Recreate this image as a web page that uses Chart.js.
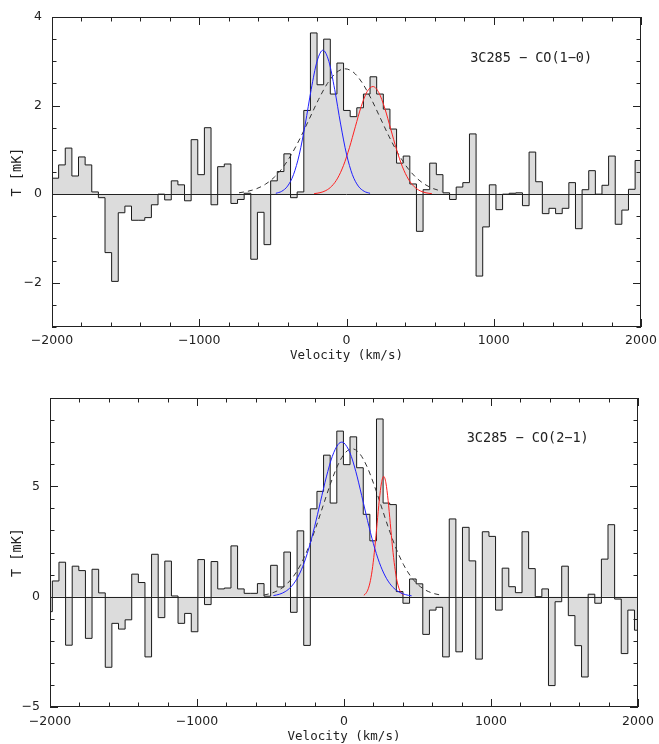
<!DOCTYPE html>
<html>
<head>
<meta charset="utf-8">
<script src="https://cdn.jsdelivr.net/npm/chart.js@4.4.1/dist/chart.umd.min.js"></script>
<style>
  body { margin: 0; background: #fff; }
  canvas { display: block; }
</style>
</head>
<body>
<canvas id="chart-1" width="659" height="372"></canvas>
<canvas id="chart-2" width="659" height="372"></canvas>
<script>
// channel width of both spectra (km/s)
const chanWidth = 45;
const velLabels = [-2000, -1000, 0, 1000, 2000];

// CO(1-0) spectrum, channels start at -2000 km/s
const co10Start = -2000;
const co10T = [0.36, 0.66, 1.04, 0.41, 0.84, 0.66, 0.05, -0.08, -1.32, -1.97,
  -0.42, -0.27, -0.59, -0.59, -0.53, -0.24, 0.0, -0.13, 0.30, 0.21,
  -0.15, 1.23, 0.44, 1.50, -0.24, 0.62, 0.68, -0.21, -0.12, 0.02,
  -1.47, -0.41, -1.14, 0.30, 0.51, 0.91, -0.08, 0.05, 1.89, 3.64,
  2.47, 3.50, 2.26, 2.96, 1.89, 1.75, 1.95, 2.26, 2.65, 2.26,
  1.92, 1.47, 0.70, 0.86, 0.23, -0.84, 0.10, 0.70, 0.44, 0.03,
  -0.12, 0.16, 0.26, 1.36, -1.85, -0.74, 0.21, -0.35, 0.0, 0.02,
  0.03, -0.26, 0.95, 0.28, -0.44, -0.32, -0.44, -0.32, 0.26, -0.78,
  0.10, 0.53, 0.0, 0.20, 0.86, -0.68, -0.36, 0.11, 0.76];
const co10YLabels = [-2, 0, 2, 4];

// CO(1-0) fits: blue / red components and single broad gaussian (dashed)
const co10BlueV = [-480, -440, -400, -360, -320, -280, -240, -200, -160, -120, -80, -40, 0, 40, 80, 120, 160];
const co10BlueT = [0.019, 0.064, 0.182, 0.440, 0.904, 1.582, 2.36, 3.00, 3.25, 3.00, 2.36, 1.582, 0.904, 0.440, 0.182, 0.064, 0.019];
const co10RedV = [-220, -180, -140, -100, -60, -20, 20, 60, 100, 140, 180, 220, 260, 300, 340, 380, 420, 460, 500, 540, 580];
const co10RedT = [0.012, 0.033, 0.081, 0.181, 0.362, 0.651, 1.050, 1.522, 1.981, 2.315, 2.43, 2.29, 1.939, 1.474, 1.006, 0.617, 0.340, 0.168, 0.075, 0.030, 0.011];
const co10FitV = [-730, -670, -610, -550, -490, -430, -370, -310, -250, -190, -130, -70, -10, 50, 110, 170, 230, 290, 350, 410, 470, 530, 590, 650];
const co10FitT = [0.031, 0.065, 0.124, 0.225, 0.383, 0.612, 0.919, 1.296, 1.716, 2.136, 2.497, 2.743, 2.83, 2.743, 2.497, 2.136, 1.716, 1.296, 0.919, 0.612, 0.383, 0.225, 0.124, 0.065];

// CO(2-1) spectrum, first channel is cut by the left edge
const co21Start = -2029;
const co21T = [-0.68, 0.71, 1.56, -2.20, 1.38, 1.18, -1.89, 1.24, 0.17, -3.20,
  -1.21, -1.47, -1.05, 1.02, 0.64, -2.73, 1.92, -0.95, 1.61, 0.03,
  -1.21, -0.76, -1.59, 1.68, -0.36, 1.59, 0.35, 0.39, 2.30, 0.35,
  0.15, 0.15, 0.59, 0.02, 1.42, 0.44, 2.02, -0.71, 2.98, -2.21,
  3.98, 4.77, 6.41, 4.24, 7.50, 5.98, 7.24, 5.84, 3.73, 2.53,
  8.05, 4.24, 4.17, 0.23, -0.30, 0.80, 0.58, -1.71, -0.61, -0.48,
  -2.73, 3.52, -2.50, 3.14, 1.62, -2.83, 2.94, 2.73, -0.61, 1.29,
  0.45, 0.18, 2.94, 1.27, 0.0, 0.35, -4.03, -0.23, 1.38, -0.86,
  -2.22, -3.64, 0.11, -0.30, 1.70, 3.26, -0.11, -2.58, -0.61, -1.52];
const co21YLabels = [-5, 0, 5];

const co21BlueV = [-480, -440, -400, -360, -320, -280, -240, -200, -160, -120, -80, -40, -15, 0, 40, 80, 120, 160, 200, 240, 280, 320, 360, 400, 440, 460];
const co21BlueT = [0.047, 0.107, 0.227, 0.446, 0.813, 1.378, 2.169, 3.170, 4.305, 5.424, 6.348, 6.899, 7.0, 6.964, 6.527, 5.681, 4.591, 3.446, 2.402, 1.554, 0.934, 0.522, 0.270, 0.130, 0.058, 0.038];
const co21RedV = [135, 150, 165, 180, 195, 210, 225, 240, 255, 270, 285, 300, 315, 330, 345, 360, 375, 390, 405];
const co21RedT = [0.061, 0.156, 0.358, 0.738, 1.359, 2.241, 3.306, 4.364, 5.156, 5.45, 5.156, 4.364, 3.306, 2.241, 1.359, 0.738, 0.358, 0.156, 0.061];
const co21FitV = [-545, -495, -445, -395, -345, -295, -245, -195, -145, -95, -45, 5, 55, 105, 155, 205, 255, 305, 355, 405, 455, 505, 555, 605, 655];
const co21FitT = [0.074, 0.153, 0.294, 0.533, 0.907, 1.449, 2.175, 3.067, 4.064, 5.057, 5.913, 6.494, 6.70, 6.494, 5.913, 5.057, 4.064, 3.067, 2.175, 1.449, 0.907, 0.533, 0.294, 0.153, 0.074];

const minus = v => (v < 0 ? '\u2212' + Math.abs(v) : String(v));
const pts = (xs, ys) => xs.map((x, i) => ({ x: x, y: ys[i] }));
// left channel edges + closing edge, drawn with step-before
function steps(start, vals) {
  const p = vals.map((y, i) => ({ x: start + i * chanWidth, y: y }));
  p.push({ x: start + vals.length * chanWidth, y: vals[vals.length - 1] });
  return p;
}

const ink = '#222';
const tickFont = { family: 'DejaVu Sans', size: 12.5 };
const textFont = { family: 'DejaVu Sans Mono', size: 12.5 };
const yTitleFont = { family: 'DejaVu Sans Mono', size: 13.5 };

// box frame with inward ticks, zero line and the panel label
const boxTicks = {
  id: 'boxTicks',
  afterDatasetsDraw(chart, args, opts) {
    const { ctx, chartArea: a, scales: { x, y } } = chart;
    ctx.save();
    ctx.strokeStyle = ink;
    ctx.lineWidth = 1;
    ctx.beginPath();
    const y0 = Math.round(y.getPixelForValue(0)) + 0.5;
    ctx.moveTo(a.left, y0);
    ctx.lineTo(a.right, y0);
    x.ticks.forEach(t => {
      const p = Math.round(x.getPixelForValue(t.value)) + 0.5;
      const len = velLabels.includes(t.value) ? 8 : 4.5;
      ctx.moveTo(p, a.bottom); ctx.lineTo(p, a.bottom - len);
      ctx.moveTo(p, a.top); ctx.lineTo(p, a.top + len);
    });
    y.ticks.forEach(t => {
      const p = Math.round(y.getPixelForValue(t.value)) + 0.5;
      const len = opts.yMajor.includes(t.value) ? 8 : 4.5;
      ctx.moveTo(a.left, p); ctx.lineTo(a.left + len, p);
      ctx.moveTo(a.right, p); ctx.lineTo(a.right - len, p);
    });
    ctx.stroke();
    ctx.strokeRect(Math.round(a.left) + 0.5, Math.round(a.top) + 0.5,
      Math.round(a.right - a.left) - 1, Math.round(a.bottom - a.top) - 1);
    ctx.fillStyle = ink;
    ctx.font = '13.5px "DejaVu Sans Mono"';
    ctx.textBaseline = 'middle';
    ctx.fillText(opts.text, x.getPixelForValue(opts.at[0]), y.getPixelForValue(opts.at[1]));
    ctx.restore();
  }
};

const curve = { pointRadius: 0, borderWidth: 1, fill: false, cubicInterpolationMode: 'monotone' };

function panel(id, o) {
  return new Chart(document.getElementById(id), {
    type: 'line',
    data: {
      datasets: [
        Object.assign({ data: pts(o.blueV, o.blueT), borderColor: '#2020ff' }, curve),
        Object.assign({ data: pts(o.redV, o.redT), borderColor: '#ff2020' }, curve),
        Object.assign({ data: pts(o.fitV, o.fitT), borderColor: '#333', borderDash: [5, 4] }, curve),
        {
          data: steps(o.start, o.T),
          stepped: 'before',
          fill: 'origin',
          backgroundColor: '#dcdcdc',
          borderColor: '#1a1a1a',
          borderWidth: 1,
          pointRadius: 0
        }
      ]
    },
    options: {
      responsive: false,
      animation: false,
      devicePixelRatio: 1,
      layout: { padding: o.pad },
      plugins: {
        legend: { display: false },
        tooltip: { enabled: false },
        boxTicks: { yMajor: o.yLabels, text: o.label, at: o.labelAt }
      },
      scales: {
        x: {
          type: 'linear',
          min: -2000,
          max: 2000,
          // fixed axis height, edge labels may overhang the frame
          afterFit: s => { s.height = o.xHeight; s.paddingLeft = 0; s.paddingRight = 0; },
          border: { display: false },
          grid: { display: false, drawTicks: false },
          ticks: {
            stepSize: 200, autoSkip: false, maxRotation: 0,
            padding: o.xTickPad, color: ink, font: tickFont,
            callback: v => (velLabels.includes(v) ? minus(v) : '')
          },
          title: {
            display: true, text: 'Velocity (km/s)', color: ink, font: textFont,
            padding: { top: 0, bottom: o.xTitlePad }
          }
        },
        y: {
          min: o.yMin,
          max: o.yMax,
          afterFit: s => { s.width = o.yWidth; s.paddingTop = 0; s.paddingBottom = 0; },
          border: { display: false },
          grid: { display: false, drawTicks: false },
          ticks: {
            stepSize: o.yStep, autoSkip: false, padding: 10, color: ink, font: tickFont,
            callback: v => (o.yLabels.includes(v) ? minus(v) : '')
          },
          title: {
            display: true, text: 'T [mK]', color: ink, font: yTitleFont,
            padding: { top: 9.5, bottom: 0 }
          }
        }
      }
    },
    plugins: [boxTicks]
  });
}

panel('chart-1', {
  start: co10Start, T: co10T,
  blueV: co10BlueV, blueT: co10BlueT, redV: co10RedV, redT: co10RedT, fitV: co10FitV, fitT: co10FitT,
  yMin: -3, yMax: 4, yStep: 0.5, yLabels: co10YLabels,
  label: '3C285 \u2212 CO(1\u22120)', labelAt: [840, 3.06],
  pad: { top: 17, right: 18, left: 0, bottom: 0 },
  xHeight: 45, xTickPad: 6, xTitlePad: 9, yWidth: 52
});

panel('chart-2', {
  start: co21Start, T: co21T,
  blueV: co21BlueV, blueT: co21BlueT, redV: co21RedV, redT: co21RedT, fitV: co21FitV, fitT: co21FitT,
  yMin: -5, yMax: 9, yStep: 1, yLabels: co21YLabels,
  label: '3C285 \u2212 CO(2\u22121)', labelAt: [835, 7.15],
  pad: { top: 26, right: 21, left: 0, bottom: 0 },
  xHeight: 37, xTickPad: 7, xTitlePad: 0, yWidth: 50
});
</script>
</body>
</html>
